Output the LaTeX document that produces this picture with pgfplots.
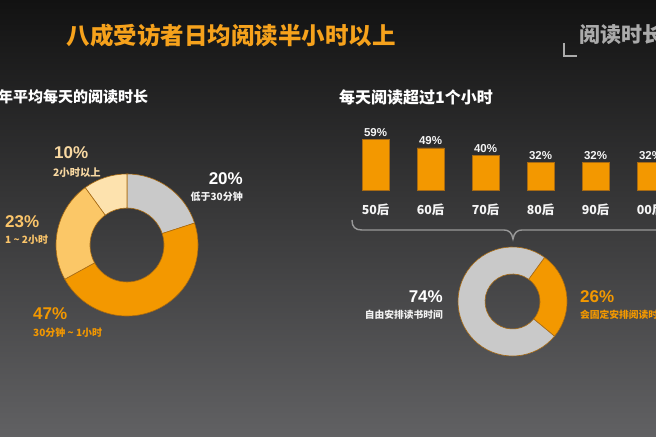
\documentclass[border=0pt]{standalone}
\usepackage{pgfplots}
\pgfplotsset{compat=1.18}
\usepackage{fontspec}
\setmainfont{Liberation Sans}
\newfontfamily\cjk{Noto Sans CJK SC}
\definecolor{bgtop}{HTML}{121212}
\definecolor{bgmid}{HTML}{3A3A3A}
\definecolor{bgbot}{HTML}{616163}
\definecolor{corange}{HTML}{F39800}
\definecolor{clight}{HTML}{FBC767}
\definecolor{cpale}{HTML}{FDE2AE}
\definecolor{cgray}{HTML}{C9C9C9}
\definecolor{csep}{HTML}{A86A12}
\definecolor{ctitle}{HTML}{F6A21C}
\definecolor{tpale}{HTML}{F9D9A2}
\definecolor{tlight}{HTML}{FBC56A}
\definecolor{tgray}{HTML}{ABABAB}
% ring slice: #1 start %, #2 end %, #3 outer r, #4 inner r, #5 colour, #6 angle of 0%
\newcommand\ring[6]{%
  \filldraw[fill=#5, draw=csep, line width=0.6bp]
    ([shift={({#6-3.6*(#1)}:#3)}]axis cs:0,0)
    arc[start angle={#6-3.6*(#1)}, end angle={#6-3.6*(#2)}, radius=#3]
    -- ([shift={({#6-3.6*(#2)}:#4)}]axis cs:0,0)
    arc[start angle={#6-3.6*(#2)}, end angle={#6-3.6*(#1)}, radius=#4]
    -- cycle;}
\begin{document}
\begin{tikzpicture}[x=1bp,y=1bp]
\useasboundingbox (0,0) rectangle (656,437);
\clip (0,0) rectangle (656,437);
\shade[top color=bgtop, middle color=bgmid, bottom color=bgbot] (0,0) rectangle (656,437);
% titles
\node[anchor=west, inner sep=0, text=ctitle, font=\cjk\bfseries\fontsize{23.5bp}{26bp}\selectfont] at (66.5,401) {八成受访者日均阅读半小时以上};
\node[anchor=west, inner sep=0, text=tgray, font=\cjk\bfseries\fontsize{21bp}{24bp}\selectfont] at (579,402.5) {阅读时长};
\draw[tgray, line width=2.5bp] (564,394) -- (564,381) -- (577,381);
\node[anchor=west, inner sep=0, text=white, font=\cjk\bfseries\fontsize{15bp}{18bp}\selectfont] at (-2,340) {年平均每天的阅读时长};
\node[anchor=west, inner sep=0, text=white, font=\cjk\bfseries\fontsize{16bp}{18bp}\selectfont] at (339,340) {每天阅读超过1个小时};
% left donut
\begin{axis}[at={(127bp,192bp)}, anchor=center, scale only axis, width=142bp, height=142bp,
  xmin=-1, xmax=1, ymin=-1, ymax=1, hide axis, clip=false]
\addplot[draw=none] coordinates {(0,0)};
\ring{0}{20}{71bp}{37bp}{cgray}{90}
\ring{20}{67}{71bp}{37bp}{corange}{90}
\ring{67}{90}{71bp}{37bp}{clight}{90}
\ring{90}{100}{71bp}{37bp}{cpale}{90}
\end{axis}
% left donut labels
\node[anchor=west, inner sep=0, text=tpale, font=\bfseries\fontsize{17bp}{19bp}\selectfont] at (54,284) {10\%};
\node[anchor=west, inner sep=0, text=tpale, font=\cjk\bfseries\fontsize{10.3bp}{12bp}\selectfont] at (53,264) {2小时以上};
\node[anchor=east, inner sep=0, text=white, font=\bfseries\fontsize{17bp}{19bp}\selectfont] at (243,258) {20\%};
\node[anchor=east, inner sep=0, text=white!90!gray, font=\cjk\bfseries\fontsize{10bp}{12bp}\selectfont] at (243,240) {低于30分钟};
\node[anchor=west, inner sep=0, text=tlight, font=\bfseries\fontsize{17bp}{19bp}\selectfont] at (5,215) {23\%};
\node[anchor=west, inner sep=0, text=tlight, font=\cjk\bfseries\fontsize{10bp}{12bp}\selectfont] at (5,197) {1 \textasciitilde{} 2小时};
\node[anchor=west, inner sep=0, text=corange, font=\bfseries\fontsize{17bp}{19bp}\selectfont] at (33,123) {47\%};
\node[anchor=west, inner sep=0, text=corange, font=\cjk\bfseries\fontsize{10bp}{12bp}\selectfont] at (33,104) {30分钟 \textasciitilde{} 1小时};
% bars
\begin{axis}[at={(375.5bp,247bp)}, anchor=south west, scale only axis, width=275bp, height=51.6bp,
  xmin=0, xmax=5, ymin=0, ymax=60, enlargelimits=false, clip=false,
  axis line style={draw=none}, major tick length=0, ytick=\empty,
  xtick=data, xticklabels={50后,60后,70后,80后,90后,00后},
  xticklabel style={text=white!92!gray, font=\cjk\bfseries\fontsize{12.4bp}{14bp}\selectfont, yshift=-10.5bp},
  ybar, bar width=27bp,
  /pgf/number format/assume math mode=true,
  nodes near coords={\pgfmathprintnumber{\pgfplotspointmeta}\%},
  nodes near coords style={text=white!92!gray, font=\bfseries\fontsize{11.5bp}{13bp}\selectfont, inner sep=2.5bp}]
\addplot[fill=corange, draw=csep, line width=0.6bp] coordinates {(0,59) (1,49) (2,40) (3,32) (4,32) (5,32)};
\end{axis}
% brace
\draw[gray!80!white, line width=1.4bp] (352,217) .. controls (352,210) and (355,207) .. (362,207)
  -- (504,207) .. controls (509,207) and (512,204) .. (513,198)
  .. controls (514,204) and (517,207) .. (522,207) -- (670,207);
% right donut
\begin{axis}[at={(512.5bp,135.5bp)}, anchor=center, scale only axis, width=109bp, height=109bp,
  xmin=-1, xmax=1, ymin=-1, ymax=1, hide axis, clip=false]
\addplot[draw=none] coordinates {(0,0)};
\ring{0}{26}{54.5bp}{27.5bp}{corange}{54}
\ring{26}{100}{54.5bp}{27.5bp}{cgray}{54}
\end{axis}
\node[anchor=east, inner sep=0, text=white, font=\bfseries\fontsize{17bp}{19bp}\selectfont] at (443,140) {74\%};
\node[anchor=east, inner sep=0, text=white!90!gray, font=\cjk\bfseries\fontsize{9.75bp}{12bp}\selectfont] at (443,122) {自由安排读书时间};
\node[anchor=west, inner sep=0, text=corange, font=\bfseries\fontsize{17bp}{19bp}\selectfont] at (580,140) {26\%};
\node[anchor=west, inner sep=0, text=corange, font=\cjk\bfseries\fontsize{9.75bp}{12bp}\selectfont] at (580,122) {会固定安排阅读时间};
\end{tikzpicture}
\end{document}
